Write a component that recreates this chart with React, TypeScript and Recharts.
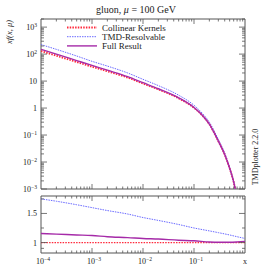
import React from 'react';
import { LineChart, Line, XAxis, YAxis, ReferenceArea } from 'recharts';

// ---------- data ----------
const xGrid = [1e-4, 2e-4, 5e-4, 1e-3, 2e-3, 5e-3, 1e-2, 2e-2, 5e-2, 0.1, 0.15, 0.2, 0.3, 0.4, 0.5, 0.6, 0.65];
const collinear = [130, 87, 51, 34, 23, 13.5, 8.1, 4.9, 2.3, 1.02, 0.5, 0.25, 0.059, 0.019, 0.0058, 0.0018, 0.0009];
const tmdResolvable = [225, 150, 85, 54, 36, 20, 11.6, 6.8, 3.0, 1.27, 0.6, 0.3, 0.069, 0.0215, 0.0064, 0.00196, 0.00097];
const fullResult = [150, 100, 57.6, 38, 25.3, 14.6, 8.7, 5.2, 2.4, 1.05, 0.51, 0.2525, 0.0593, 0.0191, 0.00585, 0.00182, 0.00092];

const ratioX = [1e-4, 2e-4, 5e-4, 1e-3, 2e-3, 5e-3, 1e-2, 2e-2, 5e-2, 0.1, 0.2, 0.3, 0.5, 0.7, 1];
const ratioCollinear = [1, 1, 1, 1, 1, 1, 1, 1, 1, 1, 1, 1, 1, 1, 1];
const ratioTmd = [1.75, 1.71, 1.65, 1.6, 1.55, 1.49, 1.43, 1.38, 1.31, 1.25, 1.2, 1.17, 1.13, 1.1, 1.07];
const ratioFull = [1.155, 1.145, 1.13, 1.12, 1.1, 1.085, 1.07, 1.06, 1.04, 1.03, 1.01, 1.005, 1.005, 1.01, 1.02];

const seriesNames = ['Collinear Kernels', 'TMD-Resolvable', 'Full Result'];
const titleText = ['gluon, ', 'μ', ' = 100 GeV'];
const yLabelText = 'xf(x, μ)';
const sideText = 'TMDplotter 2.2.0';

const xMajorTicks = [1e-4, 1e-3, 1e-2, 1e-1, 1];
const xMajorLabels = [['10', '−4'], ['10', '−3'], ['10', '−2'], ['10', '−1'], ['x', '']];
const yMajorTicks = [1e-3, 1e-2, 1e-1, 1, 10, 100, 1000];
const yMajorLabels = [['10', '−3'], ['10', '−2'], ['10', '−1'], ['1', ''], ['10', ''], ['10', '2'], ['10', '3']];
const ratioTicks = [1, 1.5];
const ratioLabels = ['1', '1.5'];
const ratioMinorTicks = [0.9, 1.25, 1.75];

// ---------- style ----------
const COL = { collinear: '#ff2a3c', tmd: '#6a6aff', full: '#a52aa8' };
const FRAME = '#555';
const FONT = '"Liberation Serif", "DejaVu Serif", serif';
const W = 273;
const L = 41, R = 245;
const MT = 19, MB = 189;
const RT = 196, RB = 253;

const mainData = xGrid.map((x, i) => ({ x, col: collinear[i], tmd: tmdResolvable[i], full: fullResult[i] }));
const ratioData = ratioX.map((x, i) => ({ x, col: ratioCollinear[i], tmd: ratioTmd[i], full: ratioFull[i] }));

const withMinors = (majors: number[], max: number) => {
  const out: number[] = [];
  majors.forEach((m) => {
    for (let k = 1; k <= 9; k++) {
      const v = m * k;
      if (v <= max * 1.0000001) out.push(v);
    }
  });
  return out;
};
const isMajor = (v: number) => Math.abs(Math.log10(v) - Math.round(Math.log10(v))) < 1e-6;

const xTicksAll = withMinors(xMajorTicks.slice(0, 4), 1).concat([1]);
const yTicksAll = withMinors(yMajorTicks, 2000);

const Label2 = ({ x, y, anchor, base, sup, size }: any) => (
  <text x={x} y={y} textAnchor={anchor} fontFamily={FONT} fontSize={size} fill="#222">
    <tspan>{base}</tspan>
    {sup ? <tspan dy={-3.5} fontSize={size * 0.7}>{sup}</tspan> : null}
  </text>
);

const makeXTick = (top: number, bottom: number) => (props: any) => {
  const { x, payload } = props;
  const v = payload.value;
  const major = isMajor(v);
  const len = major ? 5 : 2.5;
  const showLine = !(v === 1e-4 || v === 1);
  return (
    <g>
      {showLine && <line x1={x} x2={x} y1={bottom} y2={bottom - len} stroke={FRAME} strokeWidth={0.8} />}
      {showLine && <line x1={x} x2={x} y1={top} y2={top + len} stroke={FRAME} strokeWidth={0.8} />}
    </g>
  );
};

const MainYTick = (props: any) => {
  const { y, payload } = props;
  const v = payload.value;
  const major = isMajor(v);
  const len = major ? 6 : 3;
  const idx = yMajorTicks.findIndex((t) => Math.abs(t - v) / t < 1e-6);
  return (
    <g>
      <line x1={L} x2={L + len} y1={y} y2={y} stroke={FRAME} strokeWidth={0.8} />
      <line x1={R} x2={R - len} y1={y} y2={y} stroke={FRAME} strokeWidth={0.8} />
      {idx >= 0 && <Label2 x={37} y={y + 3} anchor="end" base={yMajorLabels[idx][0]} sup={yMajorLabels[idx][1]} size={8} />}
    </g>
  );
};

const RatioYTick = (props: any) => {
  const { y, payload } = props;
  const v = payload.value;
  const idx = ratioTicks.indexOf(v);
  const len = idx >= 0 ? 6 : 3;
  return (
    <g>
      <line x1={L} x2={L + len} y1={y} y2={y} stroke={FRAME} strokeWidth={0.8} />
      <line x1={R} x2={R - len} y1={y} y2={y} stroke={FRAME} strokeWidth={0.8} />
      {idx >= 0 && (
        <text x={37} y={y + 3} textAnchor="end" fontFamily={FONT} fontSize={8} fill="#222">{ratioLabels[idx]}</text>
      )}
    </g>
  );
};

const lineStyles = {
  col: { stroke: COL.collinear, strokeWidth: 1.8, strokeDasharray: '1.5 1.2' },
  tmd: { stroke: COL.tmd, strokeWidth: 1, strokeDasharray: '1.5 1' },
  full: { stroke: COL.full, strokeWidth: 1.4 },
};

export default function App() {
  return (
    <div style={{ position: 'absolute', left: 0, top: 0, width: W, height: 267, background: '#fff' }}>
      <div style={{ position: 'absolute', left: 0, top: 0 }}>
        <LineChart width={W} height={195} data={mainData} margin={{ top: MT, right: W - R, left: 0, bottom: 0 }}>
          <XAxis dataKey="x" type="number" scale="log" domain={[1e-4, 1]} ticks={xTicksAll} interval={0}
            allowDataOverflow axisLine={false} tickLine={false} height={195 - MB} tickSize={0} tick={makeXTick(MT, MB)} />
          <YAxis type="number" scale="log" domain={[1e-3, 2000]} ticks={yTicksAll} interval={0}
            allowDataOverflow axisLine={false} tickLine={false} width={L} tickSize={0} tick={MainYTick} />
          <ReferenceArea x1={1e-4} x2={1} y1={1e-3} y2={2000} fill="none" stroke={FRAME} strokeWidth={1} ifOverflow="visible" />
          <Line type="monotone" dataKey="tmd" dot={false} isAnimationActive={false} {...lineStyles.tmd} />
          <Line type="monotone" dataKey="col" dot={false} isAnimationActive={false} {...lineStyles.col} />
          <Line type="monotone" dataKey="full" dot={false} isAnimationActive={false} {...lineStyles.full} />
        </LineChart>
      </div>
      <div style={{ position: 'absolute', left: 0, top: 190 }}>
        <LineChart width={W} height={77} data={ratioData} margin={{ top: RT - 190, right: W - R, left: 0, bottom: 0 }}>
          <XAxis dataKey="x" type="number" scale="log" domain={[1e-4, 1]} ticks={xTicksAll} interval={0}
            allowDataOverflow axisLine={false} tickLine={false} height={267 - RB} tickSize={0} tick={makeXTick(RT - 190, RB - 190)} />
          <YAxis type="number" domain={[0.82, 1.8]} ticks={[...ratioMinorTicks, ...ratioTicks].sort()} interval={0}
            allowDataOverflow axisLine={false} tickLine={false} width={L} tickSize={0} tick={RatioYTick} />
          <ReferenceArea x1={1e-4} x2={1} y1={0.82} y2={1.8} fill="none" stroke={FRAME} strokeWidth={1} ifOverflow="visible" />
          <Line type="monotone" dataKey="tmd" dot={false} isAnimationActive={false} {...lineStyles.tmd} />
          <Line type="monotone" dataKey="col" dot={false} isAnimationActive={false} {...lineStyles.col} strokeWidth={1.2} />
          <Line type="monotone" dataKey="full" dot={false} isAnimationActive={false} {...lineStyles.full} />
        </LineChart>
      </div>
      <svg width={W} height={267} style={{ position: 'absolute', left: 0, top: 0, pointerEvents: 'none' }}>
        {xMajorTicks.map((t, i) => {
          const px = L + ((Math.log10(t) + 4) / 4) * (R - L);
          return <Label2 key={i} x={px + (xMajorLabels[i][1] ? 2 : 0)} y={264} anchor="middle" base={xMajorLabels[i][0]} sup={xMajorLabels[i][1]} size={8} />;
        })}
        <text x={136} y={13} textAnchor="middle" fontFamily={FONT} fontSize={10} fill="#222">
          {titleText[0]}<tspan fontStyle="italic">{titleText[1]}</tspan>{titleText[2]}
        </text>
        <text x={12} y={32} transform="rotate(-90 12 32)" textAnchor="middle" fontFamily={FONT} fontSize={8.5} fontStyle="italic" fill="#222">{yLabelText}</text>
        <text x={258} y={157} transform="rotate(-90 258 157)" textAnchor="middle" fontFamily={FONT} fontSize={8} fill="#222">{sideText}</text>
        {seriesNames.map((n, i) => {
          const y = 27.5 + i * 9.2;
          const st = [lineStyles.col, lineStyles.tmd, lineStyles.full][i];
          return (
            <g key={n}>
              <line x1={67} x2={97} y1={y} y2={y} {...st} />
              <text x={102} y={y + 3} fontFamily={FONT} fontSize={9} fill="#222">{n}</text>
            </g>
          );
        })}
      </svg>
    </div>
  );
}
